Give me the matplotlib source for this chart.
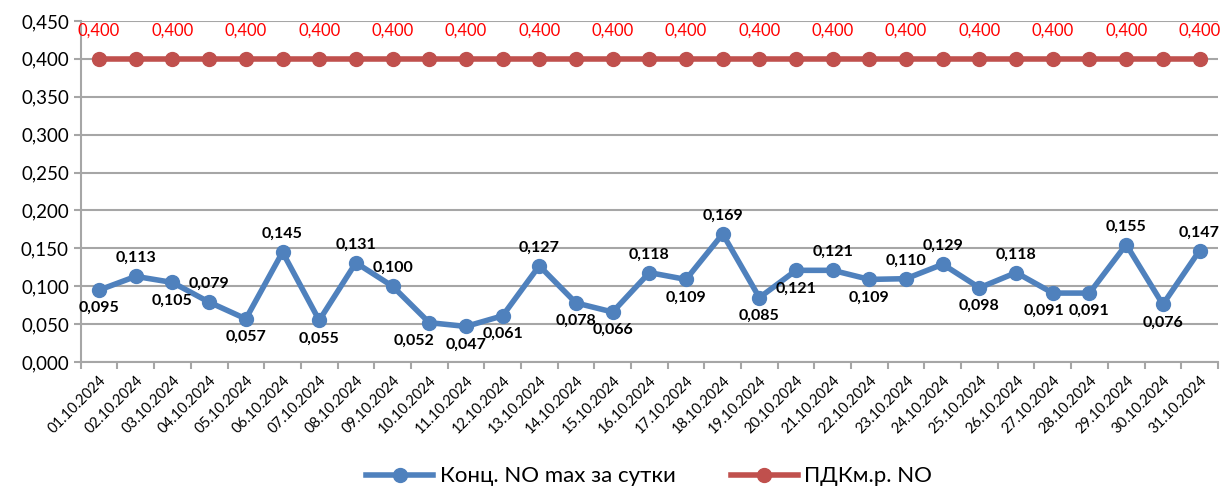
import matplotlib
matplotlib.use("Agg")
import matplotlib.pyplot as plt
import matplotlib.ticker as ticker

plt.rcParams['font.family'] = ['Lato', 'DejaVu Sans']

dates = [f"{d:02d}.10.2024" for d in range(1, 32)]
no_max = [0.095, 0.113, 0.105, 0.079, 0.057, 0.145, 0.055, 0.131, 0.100, 0.052,
          0.047, 0.061, 0.127, 0.078, 0.066, 0.118, 0.109, 0.169, 0.085, 0.121,
          0.121, 0.109, 0.110, 0.129, 0.098, 0.118, 0.091, 0.091, 0.155, 0.076,
          0.147]
pdk = [0.400] * 31
# label above (1) or below (0) the point, as in the original
above = [0, 1, 0, 1, 0, 1, 0, 1, 1, 0, 0, 0, 1, 0, 0, 1, 0, 1, 0, 0,
         1, 0, 1, 1, 0, 1, 0, 0, 1, 0, 1]
# a few labels nudged sideways so they don't collide
nudge = {9: -11, 26: -6}

blue = '#4F81BD'
red = '#C0504D'
grid_col = '#A6A6A6'

fig = plt.figure(figsize=(12.24, 4.86), dpi=100)
ax = fig.add_axes([0.066, 0.255, 0.929, 0.702])

x = list(range(len(dates)))
ax.plot(x, no_max, color=blue, lw=4, marker='o', ms=10, label='Конц. NO max за сутки', zorder=3)
ax.plot(x, pdk, color=red, lw=4, marker='o', ms=10, label='ПДКм.р. NO', zorder=3)

def fmt(v):
    return f"{v:.3f}".replace('.', ',')

for i, v in enumerate(no_max):
    dx = nudge.get(i, 0)
    if above[i]:
        ax.annotate(fmt(v), (i, v), xytext=(dx, 8), textcoords='offset points',
                    ha='center', va='bottom', fontsize=11.5, fontweight='bold')
    else:
        ax.annotate(fmt(v), (i, v), xytext=(dx, -8), textcoords='offset points',
                    ha='center', va='top', fontsize=11.5, fontweight='bold')

for i, v in enumerate(pdk):
    if i % 2 == 0:
        ax.annotate(fmt(v), (i, v), xytext=(0, 20), textcoords='offset points',
                    ha='center', va='center', fontsize=12, color='#FF0000')

ax.set_xlim(-0.5, len(dates) - 0.5)
ax.set_ylim(0, 0.45)
ax.yaxis.set_major_locator(ticker.MultipleLocator(0.05))
ax.yaxis.set_major_formatter(ticker.FuncFormatter(lambda v, p: fmt(v)))
ax.set_xticks(x)
ax.set_xticklabels(dates, rotation=45, ha='right', rotation_mode='anchor', fontsize=10.5)
ax.tick_params(axis='x', length=0, pad=8)
ax.set_xticks([i - 0.5 for i in range(len(dates) + 1)], minor=True)
ax.tick_params(axis='x', which='minor', length=5, color=grid_col, width=1.5)
ax.tick_params(axis='y', labelsize=13.5, length=5, color=grid_col, width=1.5)

ax.grid(axis='y', color=grid_col, lw=1.5)
ax.set_axisbelow(True)
for s in ['top', 'right']:
    ax.spines[s].set_visible(False)
for s in ['left', 'bottom']:
    ax.spines[s].set_color(grid_col)
    ax.spines[s].set_linewidth(1.5)

ax.legend(loc='center', bbox_to_anchor=(0.5, -0.335), ncol=2, frameon=False,
          fontsize=16, handlelength=3.0, handletextpad=0.3, columnspacing=2.5)

fig.savefig('out.png', dpi=100)
